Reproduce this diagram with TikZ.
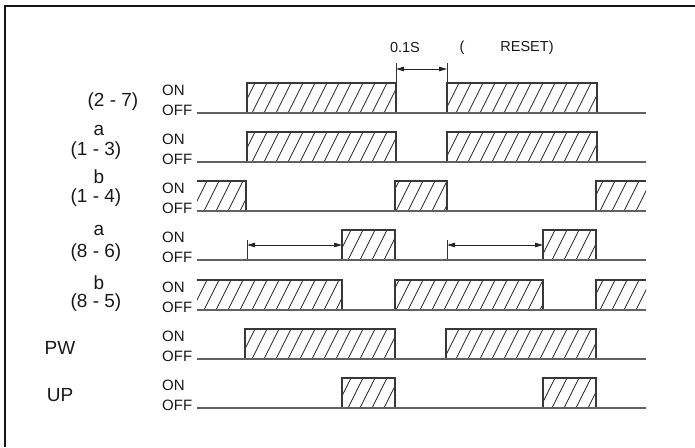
\documentclass[tikz,border=0pt]{standalone}
\usepackage{fontspec}
\setmainfont{Liberation Sans}
\usetikzlibrary{arrows.meta}
\newcommand\hatchrect[3]{%
  \begin{scope}
    \clip (#1,#3) rectangle (#2,{#3-30});
    \foreach \k in {14,...,56}{\draw[hatch] ({\k*12},#3) -- ++(15,-30);}
  \end{scope}}
\begin{document}
\begin{tikzpicture}[x=1pt,y=-1pt,
  frame/.style={line width=2.3pt,draw=black!92},
  sig/.style={line width=1.7pt,draw=black!62},
  pulse/.style={line width=1.1pt,draw=black!78},
  hatch/.style={line width=0.7pt,draw=black!85},
  lvl/.style={font=\fontsize{15}{15}\selectfont,text=black!90,inner sep=0pt,anchor=west},
  lab/.style={font=\fontsize{19}{19}\selectfont,text=black!90,inner sep=0pt},
  note/.style={font=\fontsize{14.5}{14.5}\selectfont,text=black!90,inner sep=0pt},
  dimline/.style={line width=0.9pt,draw=black!85,
    {Triangle[length=8pt,width=4.5pt]}-{Triangle[length=8pt,width=4.5pt]}},
  tickline/.style={line width=1pt,draw=black!80}]
\useasboundingbox (0,0) rectangle (695,447);
% frame
\draw[frame] (695,6) -- (5,6) -- (5,447);

% hatched areas
\hatchrect{247}{396}{113}\hatchrect{447}{597}{113}
\hatchrect{247}{396}{162}\hatchrect{447}{597}{162}
\hatchrect{197}{246}{211}\hatchrect{395}{447}{211}\hatchrect{596}{646}{211}
\hatchrect{342}{395}{260}\hatchrect{543}{596}{260}
\hatchrect{197}{342}{310}\hatchrect{395}{543}{310}\hatchrect{596}{646}{310}
\hatchrect{245}{395}{359}\hatchrect{446}{596}{359}
\hatchrect{342}{395}{408}\hatchrect{543}{596}{408}

% pulse outlines
\draw[pulse] (247,113) |- (396,83) -- (396,113);
\draw[pulse] (447,113) |- (597,83) -- (597,113);
\draw[pulse] (247,162) |- (396,132) -- (396,162);
\draw[pulse] (447,162) |- (597,132) -- (597,162);
\draw[pulse] (197,181) -| (246,211);
\draw[pulse] (395,211) |- (447,181) -- (447,211);
\draw[pulse] (596,211) |- (646,181);
\draw[pulse] (342,260) |- (395,230) -- (395,260);
\draw[pulse] (543,260) |- (596,230) -- (596,260);
\draw[pulse] (197,280) -| (342,310);
\draw[pulse] (395,310) |- (543,280) -- (543,310);
\draw[pulse] (596,310) |- (646,280);
\draw[pulse] (245,359) |- (395,329) -- (395,359);
\draw[pulse] (446,359) |- (596,329) -- (596,359);
\draw[pulse] (342,408) |- (395,378) -- (395,408);
\draw[pulse] (543,408) |- (596,378) -- (596,408);

% base lines
\foreach \b in {113,162,211,260,310,359,408}{\draw[sig] (197,\b) -- (646,\b);}

% ON / OFF
\foreach \b/\n in {113/a,162/b,211/c,260/d,310/e,359/f,408/g}{
  \node[lvl] (on\n) at (162,{\b-23}) {ON};
  \node[lvl] (off\n) at (162,{\b-3}) {OFF};
}

% row labels
\node[lab] (l1) at (113,102) {(2 - 7)};
\node[lab] (l2a) at (99,130) {a};
\node[lab] (l2b) at (96,151) {(1 - 3)};
\node[lab] (l3a) at (99,177) {b};
\node[lab] (l3b) at (96,198) {(1 - 4)};
\node[lab] (l4a) at (99,230) {a};
\node[lab] (l4b) at (96,253) {(8 - 6)};
\node[lab] (l5a) at (99,283) {b};
\node[lab] (l5b) at (96,303) {(8 - 5)};
\node[lab] (l6) at (60,348) {PW};
\node[lab] (l7) at (60,395) {UP};

% top note
\node[note] (n1) at (405,48) {0.1S};
\node[note] (n2) at (462,48) {(};
\node[note] (n3) at (527,48) {RESET)};

% dimension 0.1 s
\coordinate (k1t) at (396,63); \coordinate (k1b) at (396,83);
\coordinate (k2t) at (447,63); \coordinate (k2b) at (447,83);
\draw[tickline] (k1t) -- (k1b);
\draw[tickline] (k2t) -- (k2b);
\coordinate (d1a) at (396,69); \coordinate (d1b) at (447,69);
\draw[dimline] (d1a) -- (d1b);

% delay arrows row (8-6)
\coordinate (k3t) at (247,240); \coordinate (k3b) at (247,259);
\coordinate (k4t) at (447,240); \coordinate (k4b) at (447,259);
\draw[tickline] (k3t) -- (k3b);
\draw[tickline] (k4t) -- (k4b);
\coordinate (d2a) at (247,245); \coordinate (d2b) at (342,245);
\coordinate (d3a) at (447,245); \coordinate (d3b) at (543,245);
\draw[dimline] (d2a) -- (d2b);
\draw[dimline] (d3a) -- (d3b);
\end{tikzpicture}
\end{document}
